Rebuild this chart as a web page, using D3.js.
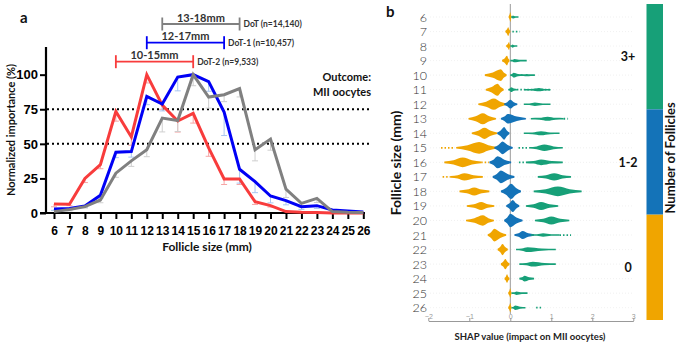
<!DOCTYPE html>
<html>
<head>
<meta charset="utf-8">
<script src="https://cdn.jsdelivr.net/npm/d3@7"></script>
<style>
  body { margin: 0; background: #fff; }
  svg { display: block; font-family: "Lato", "Open Sans", sans-serif; }
  .tick-a text { font-family: "Liberation Sans", Arial, sans-serif; font-weight: bold; fill: #000; }
  .lbl { font-weight: bold; fill: #111; }
</style>
</head>
<body>
<div id="chart"></div>
<script>
// --- panel a data ---
const sizes = d3.range(6, 27);
const dot    = [1, 2.5, 4.6, 9.4, 28.8, 37.7, 45.7, 68.6, 66.9, 100, 83.8, 85.5, 89.9, 45.7, 53.4, 17.2, 7, 10.6, 1, 0.5, 0.3];
const dot1   = [2.9, 3.3, 5, 12.8, 44, 44.4, 84.3, 78.8, 98.3, 100, 95, 73, 31.6, 22.7, 12.3, 8.9, 4.6, 5.3, 2.2, 1.4, 0.7];
const dot2   = [6.5, 6.3, 25, 35, 73.4, 55, 100, 78, 66.5, 72, 47, 24.6, 24.6, 8.2, 5.3, 1, 0.5, 0.3, 0, 0, 0];
const errDot  = [0.5, 1, 1, 2, 3, 4, 5, 10, 8, 8, 8, 5, 6, 8, 8, 6, 3, 3, 0.5, 0, 0];
const errDot1 = [1, 1, 1, 2, 4, 4, 6, 5, 10, 3, 7, 17, 10, 8, 5, 3, 2, 2, 1, 0, 0];
const errDot2 = [2, 1, 3, 3, 7, 6, 6, 3, 8, 7, 6, 4, 4, 2, 1, 0.5, 0, 0, 0, 0, 0];
const yTicksA = [0, 25, 50, 75, 100];
const refLines = [50, 75];
// bracket ranges [from, to], label, sample label
const brackets = [
  {from: 13, to: 18, text: "13-18mm", note: "DoT (n=14,140)", col: "#808080"},
  {from: 12, to: 17, text: "12-17mm", note: "DoT-1 (n=10,457)", col: "#0000f5"},
  {from: 10, to: 15, text: "10-15mm", note: "DoT-2 (n=9,533)", col: "#f83c3c"}
];

// --- panel b data ---
const rowsB = d3.range(6, 27);
const catLabels = ["0", "1-2", "3+"];
const catColors = ["#f0a500", "#1473b8", "#17a078"];
const xTicksB = [-2, -1, 0, 1, 2, 3];
// clusters: [follicle size, category, lo, peak, hi, density]
const clusters = [
  [6, 0, -0.04, 0, 0.03, 0.6], [6, 2, 0.02, 0.06, 0.2, 0.2],
  [7, 0, -0.12, -0.05, 0.0, 0.55],
  [8, 0, -0.1, -0.03, 0.0, 0.5], [8, 2, 0.0, 0.05, 0.17, 0.2],
  [9, 0, -0.2, -0.08, -0.02, 0.6], [9, 2, 0.0, 0.1, 0.4, 0.2],
  [10, 0, -0.62, -0.23, -0.09, 0.73], [10, 2, 0.0, 0.08, 0.3, 0.3], [10, 2, 0.25, 0.4, 0.6, 0.15],
  [11, 0, -0.6, -0.31, -0.16, 0.75], [11, 2, -0.05, 0.02, 0.16, 0.3], [11, 2, 0.35, 0.7, 0.98, 0.2],
  [12, 0, -0.78, -0.4, -0.09, 0.7], [12, 1, -0.15, 0.0, 0.17, 0.55], [12, 2, 0.33, 0.6, 0.98, 0.22],
  [13, 0, -1.02, -0.67, -0.35, 0.7], [13, 1, -0.23, -0.06, 0.38, 0.6], [13, 2, 0.5, 0.91, 1.3, 0.25],
  [14, 0, -0.94, -0.63, -0.32, 0.7], [14, 1, -0.32, -0.15, -0.02, 0.8], [14, 2, 0.33, 0.75, 1.2, 0.25],
  [15, 0, -1.32, -0.76, -0.31, 0.73], [15, 1, -0.39, -0.19, 0.06, 0.8], [15, 2, 0.46, 0.83, 1.28, 0.4],
  [16, 0, -1.61, -1.16, -0.71, 0.6], [16, 1, -0.51, -0.31, 0.02, 0.75], [16, 2, 0.38, 0.75, 1.28, 0.35],
  [17, 0, -1.45, -1.12, -0.67, 0.45], [17, 1, -0.43, -0.23, 0.1, 0.8], [17, 2, 0.67, 1.07, 1.48, 0.45],
  [18, 0, -1.24, -0.88, -0.51, 0.5], [18, 1, -0.23, 0.02, 0.26, 0.95], [18, 2, 0.57, 1.16, 1.74, 0.6],
  [19, 0, -1.06, -0.71, -0.39, 0.5], [19, 1, -0.1, 0.06, 0.22, 0.75], [19, 2, 0.38, 0.75, 1.17, 0.5],
  [20, 0, -1.08, -0.67, -0.4, 0.65], [20, 1, -0.15, 0.0, 0.3, 0.85], [20, 2, 0.6, 1.0, 1.44, 0.5],
  [21, 0, -0.55, -0.39, -0.1, 0.8], [21, 1, 0.1, 0.3, 0.58, 0.5], [21, 2, 0.5, 0.8, 1.2, 0.22],
  [22, 0, -0.31, -0.19, -0.06, 0.7], [22, 2, 0.14, 0.42, 1.11, 0.3],
  [23, 0, -0.23, -0.12, -0.02, 0.65], [23, 2, 0.22, 0.55, 1.11, 0.3],
  [24, 0, -0.14, -0.08, -0.02, 0.55], [24, 2, 0.22, 0.35, 0.58, 0.35],
  [25, 0, -0.05, 0, 0.03, 0.6], [25, 2, 0.03, 0.15, 0.42, 0.22],
  [26, 0, -0.05, 0, 0.03, 0.6], [26, 2, 0.03, 0.12, 0.37, 0.28]
];
// sparse dotted tails: [follicle size, category, from, to]
const sparse = [
  [7, 2, 0.05, 0.23], [11, 2, 0.16, 1.0], [13, 2, 1.3, 1.4],
  [15, 0, -1.69, -1.35], [15, 2, 0.2, 0.46], [16, 0, -0.71, -0.52], [16, 2, 0.21, 0.38],
  [17, 0, -1.65, -1.45], [21, 2, 1.2, 1.48], [26, 2, 0.63, 0.75]
];

const W = 678, H = 346;
const svg = d3.select("#chart").append("svg").attr("width", W).attr("height", H);

// ================= panel a =================
const xA = d3.scaleLinear().domain([6, 26]).range([54, 363.3]);
const yA = d3.scaleLinear().domain([0, 120]).range([213, 47]);

// reference dotted lines
svg.selectAll(".ref").data(refLines).enter().append("line")
  .attr("x1", 47).attr("x2", 372)
  .attr("y1", d => yA(d)).attr("y2", d => yA(d))
  .attr("stroke", "#000").attr("stroke-width", 2).attr("stroke-dasharray", "2,3");

// axes
const gy = svg.append("g").attr("class", "tick-a").attr("transform", "translate(46,0)")
  .call(d3.axisLeft(yA).tickValues(yTicksA).tickSize(6).tickPadding(2).tickSizeOuter(0));
gy.selectAll("text").style("font-size", "13px");
gy.selectAll("line").attr("stroke-width", 2);
gy.select(".domain").remove();
svg.append("line").attr("x1", 46).attr("x2", 46).attr("y1", yA(120)).attr("y2", 214)
  .attr("stroke", "#000").attr("stroke-width", 2.2);

const gx = svg.append("g").attr("class", "tick-a").attr("transform", "translate(0,213)")
  .call(d3.axisBottom(xA).tickValues(sizes).tickSize(6).tickPadding(7).tickFormat(d3.format("d")));
gx.selectAll("text").style("font-size", "12px");
gx.selectAll("line").attr("stroke-width", 2);
gx.select(".domain").remove();
svg.append("line").attr("x1", 40).attr("x2", 365).attr("y1", 213).attr("y2", 213)
  .attr("stroke", "#000").attr("stroke-width", 2.2);

// error bars + lines
const series = [
  {vals: dot2, err: errDot2, col: "#f83c3c", light: "#f6a6a6"},
  {vals: dot1, err: errDot1, col: "#0000f5", light: "#a9c6f0"},
  {vals: dot,  err: errDot,  col: "#808080", light: "#cfcfcf"}
];
series.forEach(s => {
  const g = svg.append("g");
  sizes.forEach((x, i) => {
    if (s.err[i] < 1) return;
    const y0 = yA(s.vals[i]), y1 = yA(s.vals[i] - s.err[i]);
    g.append("line").attr("x1", xA(x)).attr("x2", xA(x)).attr("y1", y0).attr("y2", y1)
      .attr("stroke", s.light).attr("stroke-width", 1);
    g.append("line").attr("x1", xA(x) - 3).attr("x2", xA(x) + 3).attr("y1", y1).attr("y2", y1)
      .attr("stroke", s.light).attr("stroke-width", 1);
  });
});
const lineGen = vals => d3.line().x((d, i) => xA(sizes[i])).y(d => yA(d))(vals);
series.forEach(s => {
  svg.append("path").attr("d", lineGen(s.vals)).attr("fill", "none")
    .attr("stroke", s.col).attr("stroke-width", 3).attr("stroke-linejoin", "miter");
});

// brackets
const brY = [24, 42.7, 61.7];
brackets.forEach((b, i) => {
  const g = svg.append("g").attr("stroke", b.col).attr("stroke-width", 1.8);
  g.append("line").attr("x1", xA(b.from)).attr("x2", xA(b.to)).attr("y1", brY[i]).attr("y2", brY[i]);
  g.append("line").attr("x1", xA(b.from)).attr("x2", xA(b.from)).attr("y1", brY[i] - 6.5).attr("y2", brY[i] + 6.5);
  g.append("line").attr("x1", xA(b.to)).attr("x2", xA(b.to)).attr("y1", brY[i] - 6.5).attr("y2", brY[i] + 6.5);
  svg.append("text").attr("x", (xA(b.from) + xA(b.to)) / 2).attr("y", brY[i] - 2.5)
    .attr("text-anchor", "middle").style("font-size", "11px").style("font-weight", "bold")
    .attr("fill", "#333").text(b.text);
  svg.append("text").attr("x", xA(b.to) + 4).attr("y", brY[i] + 3)
    .style("font-size", "8.5px").style("font-weight", "bold").attr("fill", "#333").text(b.note);
});

// labels panel a
svg.append("text").attr("class", "lbl").attr("x", 20).attr("y", 23).style("font-size", "15px").text("a");
svg.append("text").attr("class", "lbl").attr("transform", "translate(15,130) rotate(-90)")
  .attr("text-anchor", "middle").style("font-size", "11px").text("Normalized importance (%)");
svg.append("text").attr("class", "lbl").attr("x", 207).attr("y", 251)
  .attr("text-anchor", "middle").style("font-size", "12px").text("Follicle size (mm)");
svg.append("text").attr("x", 371).attr("y", 81).attr("text-anchor", "end")
  .style("font-size", "11px").style("font-weight", "bold").attr("fill", "#111").text("Outcome:");
svg.append("text").attr("x", 371).attr("y", 96).attr("text-anchor", "end")
  .style("font-size", "11px").style("font-weight", "bold").attr("fill", "#111").text("MII oocytes");

// ================= panel b =================
const xB = d3.scaleLinear().domain([-2, 3]).range([428.3, 633.3]);
const yB = d3.scaleLinear().domain([6, 26]).range([17, 307.7]);
const dens = d3.scaleLinear().domain([0, 1]).range([0, 8]);

// faint row guides
svg.selectAll(".guide").data(rowsB).enter().append("line")
  .attr("x1", 430).attr("x2", 633).attr("y1", d => yB(d)).attr("y2", d => yB(d))
  .attr("stroke", "#eeeeee").attr("stroke-width", 0.8).attr("stroke-dasharray", "1,2");

// zero line
svg.append("line").attr("x1", xB(0)).attr("x2", xB(0)).attr("y1", 4).attr("y2", 314)
  .attr("stroke", "#999").attr("stroke-width", 1);

// spindle-shaped clusters
const area = d3.area().curve(d3.curveMonotoneX);
clusters.forEach(([row, cat, lo, peak, hi, d]) => {
  const cy = yB(row);
  const pts = [[lo, 0.12], [(lo + peak) / 2, 0.45], [peak, 1], [(peak + hi) / 2, 0.45], [hi, 0.12]];
  area.x(p => xB(p[0])).y0(p => cy - Math.max(0.8, dens(p[1] * d))).y1(p => cy + Math.max(0.8, dens(p[1] * d)));
  svg.append("path").attr("d", area(pts)).attr("fill", catColors[cat]);
});
sparse.forEach(([row, cat, a, b]) => {
  svg.append("line").attr("x1", xB(a)).attr("x2", xB(b)).attr("y1", yB(row)).attr("y2", yB(row))
    .attr("stroke", catColors[cat]).attr("stroke-width", 1.8).attr("stroke-dasharray", "1.5,2");
});

// row labels
svg.selectAll(".rowlbl").data(rowsB).enter().append("text")
  .attr("x", 427).attr("y", d => yB(d) + 4.5).attr("text-anchor", "end")
  .style("font-size", "12.5px").style("font-weight", 300).attr("fill", "#333").text(d => d);

// x axis b
const gxb = svg.append("g").attr("transform", "translate(0,321)")
  .call(d3.axisBottom(xB).tickValues(xTicksB).tickSize(-3).tickPadding(5).tickSizeOuter(0)
    .tickFormat(d => d < 0 ? "\u2212" + Math.abs(d) : d));
gxb.select(".domain").attr("stroke", "#999");
gxb.selectAll("line").attr("stroke", "#999");
gxb.selectAll("text").attr("y", -2).attr("dy", 0).attr("fill", "#999").style("font-size", "7px");
svg.append("text").attr("x", 530).attr("y", 340).attr("text-anchor", "middle")
  .style("font-size", "9.5px").style("font-weight", "bold").attr("fill", "#222")
  .text("SHAP value (impact on MII oocytes)");
svg.append("text").attr("class", "lbl").attr("transform", "translate(401,163) rotate(-90)")
  .attr("text-anchor", "middle").style("font-size", "14px").text("Follicle size (mm)");
svg.append("text").attr("class", "lbl").attr("x", 386).attr("y", 17).style("font-size", "15px").text("b");

// colour bar
const cbY = d3.scaleBand().domain(["3+", "1-2", "0"]).range([4, 320]);
["3+", "1-2", "0"].forEach(k => {
  svg.append("rect").attr("x", 646.5).attr("y", cbY(k)).attr("width", 16.5).attr("height", cbY.bandwidth())
    .attr("fill", catColors[catLabels.indexOf(k)]);
  svg.append("text").attr("class", "lbl").attr("x", 628).attr("y", cbY(k) + cbY.bandwidth() / 2 + 4.5)
    .attr("text-anchor", "middle").style("font-size", "12.5px").text(k);
});
svg.append("text").attr("class", "lbl").attr("transform", "translate(675,158) rotate(-90)")
  .attr("text-anchor", "middle").style("font-size", "13px").text("Number of Follicles");
</script>
</body>
</html>
